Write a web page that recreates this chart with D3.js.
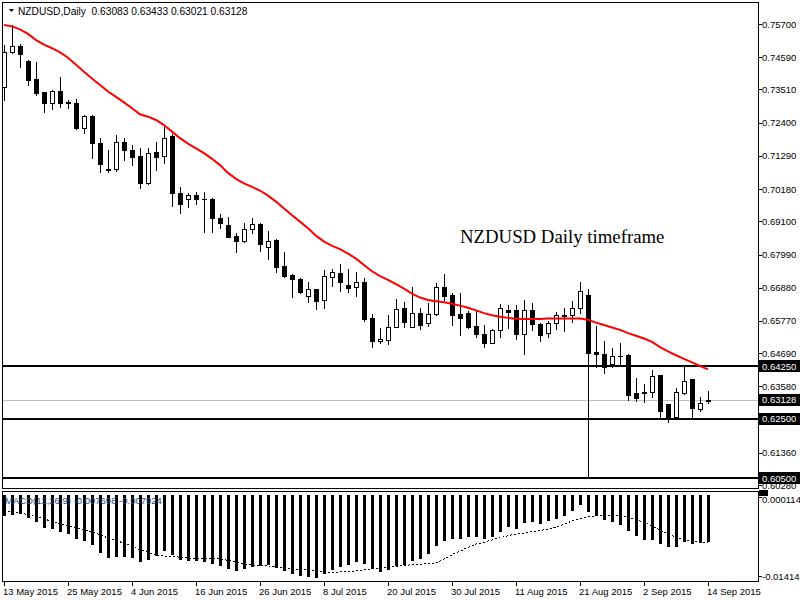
<!DOCTYPE html>
<html><head><meta charset="utf-8">
<script src="https://cdn.jsdelivr.net/npm/d3@7"></script>
<style>
body{margin:0;background:#fff}
svg{display:block}
text{font-family:"Liberation Sans",Arial,sans-serif}
</style>
</head><body>
<svg id="c" width="800" height="600"></svg>
<script>
const dates = ["2015-05-13","2015-05-14","2015-05-15","2015-05-18","2015-05-19","2015-05-20","2015-05-21","2015-05-22","2015-05-25","2015-05-26","2015-05-27","2015-05-28","2015-05-29",
"2015-06-01","2015-06-02","2015-06-03","2015-06-04","2015-06-05","2015-06-08","2015-06-09","2015-06-10","2015-06-11","2015-06-12","2015-06-15","2015-06-16","2015-06-17","2015-06-18","2015-06-19","2015-06-22","2015-06-23","2015-06-24","2015-06-25","2015-06-26","2015-06-29","2015-06-30",
"2015-07-01","2015-07-02","2015-07-03","2015-07-06","2015-07-07","2015-07-08","2015-07-09","2015-07-10","2015-07-13","2015-07-14","2015-07-15","2015-07-16","2015-07-17","2015-07-20","2015-07-21","2015-07-22","2015-07-23","2015-07-24","2015-07-27","2015-07-28","2015-07-29","2015-07-30","2015-07-31",
"2015-08-03","2015-08-04","2015-08-05","2015-08-06","2015-08-07","2015-08-10","2015-08-11","2015-08-12","2015-08-13","2015-08-14","2015-08-17","2015-08-18","2015-08-19","2015-08-20","2015-08-21","2015-08-24","2015-08-25","2015-08-26","2015-08-27","2015-08-28","2015-08-31",
"2015-09-01","2015-09-02","2015-09-03","2015-09-04","2015-09-07","2015-09-08","2015-09-09","2015-09-10","2015-09-11","2015-09-14"];

const open  = [0.7359,0.7477,0.7497,0.7446,0.7386,0.7343,0.7305,0.7346,0.7308,0.7305,0.7221,0.7262,0.7171,0.7085,0.7084,0.7176,0.7149,0.7128,0.7037,0.7141,0.7130,0.7195,0.7006,0.6984,0.6997,0.6985,0.6985,0.6920,0.6897,0.6861,0.6845,0.6883,0.6900,0.6823,0.6848,0.6761,0.6731,0.6716,0.6660,0.6682,0.6647,0.6723,0.6737,0.6697,0.6689,0.6706,0.6586,0.6508,0.6513,0.6558,0.6619,0.6558,0.6603,0.6569,0.6599,0.6689,0.6664,0.6599,0.6603,0.6560,0.6532,0.6504,0.6547,0.6614,0.6614,0.6532,0.6614,0.6567,0.6536,0.6569,0.6596,0.6595,0.6619,0.6664,0.6473,0.6465,0.6432,0.6461,0.6462,0.6335,0.6338,0.6340,0.6395,0.6298,0.6255,0.6337,0.6383,0.6282,0.63083];
const high  = [0.7500,0.7567,0.7502,0.7450,0.7442,0.7344,0.7349,0.7392,0.7316,0.7318,0.7266,0.7266,0.7190,0.7149,0.7199,0.7188,0.7165,0.7154,0.7154,0.7176,0.7227,0.7202,0.7026,0.7006,0.7008,0.7009,0.6987,0.6934,0.6926,0.6870,0.6904,0.6922,0.6906,0.6878,0.6851,0.6806,0.6734,0.6720,0.6708,0.6683,0.6747,0.6751,0.6767,0.6751,0.6740,0.6720,0.6600,0.6552,0.6597,0.6649,0.6641,0.6689,0.6619,0.6636,0.6703,0.6734,0.6669,0.6669,0.6610,0.6614,0.6563,0.6550,0.6634,0.6630,0.6630,0.6647,0.6638,0.6571,0.6578,0.6605,0.6619,0.6644,0.6706,0.6683,0.6560,0.6510,0.6485,0.6502,0.6465,0.6385,0.6365,0.6413,0.6396,0.6298,0.6352,0.6422,0.6383,0.6322,0.63433];
const low   = [0.7316,0.7473,0.7427,0.7366,0.7333,0.7277,0.7286,0.7293,0.7288,0.7218,0.7207,0.7123,0.7076,0.7076,0.7079,0.7115,0.7098,0.7021,0.7035,0.7082,0.7104,0.6961,0.6938,0.6957,0.6967,0.6875,0.6875,0.6887,0.6857,0.6809,0.6842,0.6872,0.6812,0.6783,0.6742,0.6725,0.6658,0.6671,0.6641,0.6616,0.6619,0.6692,0.6678,0.6675,0.6661,0.6578,0.6491,0.6504,0.6500,0.6557,0.6558,0.6557,0.6550,0.6560,0.6595,0.6647,0.6563,0.6530,0.6552,0.6522,0.6489,0.6503,0.6524,0.6552,0.6516,0.6466,0.6548,0.6508,0.6524,0.6549,0.6544,0.6574,0.6603,0.6051,0.6424,0.6404,0.6424,0.6430,0.6313,0.6309,0.6307,0.6324,0.6251,0.6240,0.6251,0.6333,0.6251,0.6277,0.63021];
const close = [0.7476,0.7496,0.7469,0.7383,0.7340,0.7305,0.7346,0.7305,0.7306,0.7221,0.7262,0.7171,0.7101,0.7083,0.7176,0.7149,0.7126,0.7039,0.7140,0.7126,0.7188,0.7006,0.6967,0.6997,0.6984,0.6983,0.6920,0.6904,0.6859,0.6845,0.6883,0.6900,0.6833,0.6845,0.6758,0.6728,0.6716,0.6675,0.6683,0.6645,0.6727,0.6740,0.6708,0.6688,0.6706,0.6583,0.6508,0.6516,0.6558,0.6616,0.6572,0.6603,0.6563,0.6599,0.6689,0.6661,0.6597,0.6588,0.6558,0.6532,0.6504,0.6547,0.6619,0.6608,0.6532,0.6614,0.6566,0.6530,0.6569,0.6595,0.6594,0.6619,0.6678,0.6471,0.6465,0.6424,0.6461,0.6459,0.6329,0.6318,0.6336,0.6394,0.6277,0.6251,0.6338,0.6376,0.6284,0.6302,0.63128];

const ma = [0.7567,0.7562,0.7552,0.7537,0.7516,0.7501,0.7489,0.7475,0.7457,0.7434,
0.7410,0.7388,0.7366,0.7344,0.7326,0.7308,0.7288,0.7268,0.7260,0.7249,
0.7232,0.7210,0.7188,0.7170,0.7154,0.7138,0.7119,0.7098,0.7072,0.7052,
0.7037,0.7025,0.7013,0.6996,0.6976,0.6953,0.6930,0.6909,0.6887,0.6862,
0.6842,0.6828,0.6817,0.6802,0.6785,0.6764,0.6743,0.6727,0.6714,0.6700,
0.6685,0.6668,0.6655,0.6647,0.6643,0.6639,0.6634,0.6628,0.6621,0.6612,
0.6603,0.6596,0.6591,0.6587,0.6584,0.6583,0.6583,0.6583,0.6585,0.6585,
0.6585,0.6585,0.6585,0.6581,0.6571,0.6563,0.6555,0.6547,0.6536,0.6527,
0.6518,0.6507,0.6489,0.6475,0.6462,0.6450,0.6438,0.6426,0.6415];

const macd = [-0.00344,-0.00328,-0.00311,-0.00382,-0.00447,-0.00546,-0.00562,-0.00611,-0.00644,-0.00726,
-0.00764,-0.00829,-0.00956,-0.01037,-0.01026,-0.01026,-0.01037,-0.01103,-0.01065,-0.01000,
-0.00923,-0.00988,-0.01065,-0.01082,-0.01092,-0.01103,-0.01136,-0.01164,-0.01218,-0.01246,
-0.01213,-0.01180,-0.01164,-0.01157,-0.01201,-0.01255,-0.01295,-0.01328,-0.01349,-0.01360,
-0.01300,-0.01229,-0.01185,-0.01147,-0.01103,-0.01136,-0.01218,-0.01262,-0.01239,-0.01174,
-0.01147,-0.01082,-0.01049,-0.00972,-0.00846,-0.00754,-0.00726,-0.00721,-0.00693,-0.00698,
-0.00721,-0.00698,-0.00616,-0.00534,-0.00557,-0.00469,-0.00452,-0.00475,-0.00436,-0.00393,
-0.00344,-0.00272,-0.00174,-0.00284,-0.00344,-0.00420,-0.00452,-0.00492,-0.00600,-0.00682,
-0.00747,-0.00738,-0.00803,-0.00862,-0.00857,-0.00780,-0.00803,-0.00792,-0.007698];

const signal = [-0.00272,-0.00284,-0.00300,-0.00328,-0.00361,-0.00393,-0.00443,-0.00480,-0.00513,-0.00541,
-0.00574,-0.00611,-0.00656,-0.00710,-0.00754,-0.00792,-0.00846,-0.00901,-0.00944,-0.00983,
-0.01005,-0.01010,-0.01026,-0.01037,-0.01042,-0.01049,-0.01049,-0.01054,-0.01075,-0.01098,
-0.01136,-0.01152,-0.01160,-0.01164,-0.01190,-0.01201,-0.01213,-0.01223,-0.01239,-0.01255,
-0.01270,-0.01272,-0.01267,-0.01259,-0.01251,-0.01234,-0.01215,-0.01201,-0.01188,-0.01174,
-0.01160,-0.01147,-0.01139,-0.01133,-0.01119,-0.01054,-0.00983,-0.00928,-0.00862,-0.00808,
-0.00780,-0.00742,-0.00705,-0.00672,-0.00644,-0.00628,-0.00606,-0.00590,-0.00562,-0.00529,
-0.00485,-0.00431,-0.00393,-0.00366,-0.00349,-0.00333,-0.00338,-0.00354,-0.00370,-0.00410,
-0.00452,-0.00513,-0.00583,-0.00644,-0.00698,-0.00731,-0.00759,-0.00775,-0.007924];

const priceTicks = [0.7570,0.7459,0.7351,0.7240,0.7129,0.7018,0.6910,0.6799,0.6688,0.6577,0.6469,0.6358,0.6247,0.6136,0.6028];
const levels = [0.6425,0.6250,0.6050];
const lastPrice = 0.63128;
const macdTicks = [0.000114,-0.014145];
const dateTicks = ["2015-05-13","2015-05-25","2015-06-04","2015-06-16","2015-06-26","2015-07-08","2015-07-20","2015-07-30","2015-08-11","2015-08-21","2015-09-02","2015-09-14"];
const dateLabels = ["13 May 2015","25 May 2015","4 Jun 2015","16 Jun 2015","26 Jun 2015","8 Jul 2015","20 Jul 2015","30 Jul 2015","11 Aug 2015","21 Aug 2015","2 Sep 2015","14 Sep 2015"];
const header = "NZDUSD,Daily  0.63083 0.63433 0.63021 0.63128";
const macdLabel = "MACD(12,26,9) -0.007698 -0.007924";
const note = "NZDUSD Daily timeframe";

const svg = d3.select("#c");
const L = 2, R = 758;
const x = d3.scalePoint().domain(dates).range([4, 708]);
const y = d3.scaleLinear().domain([0.6028, 0.757]).range([485, 24]);
const ym = d3.scaleLinear().domain([-0.014145, 0.000114]).range([581, 494]);

const defs = svg.append("defs");
defs.append("clipPath").attr("id","cm").append("rect").attr("x",L+1).attr("y",3).attr("width",R-L-1).attr("height",485);
defs.append("clipPath").attr("id","cd").append("rect").attr("x",L+1).attr("y",492).attr("width",R-L-1).attr("height",89);

// main panel
const gm = svg.append("g").attr("clip-path","url(#cm)").attr("shape-rendering","crispEdges");
gm.append("line").attr("x1",L).attr("x2",R).attr("y1",Math.round(y(lastPrice))+0.5).attr("y2",Math.round(y(lastPrice))+0.5)
  .attr("stroke","#c0c0c0").attr("stroke-width",1);
gm.selectAll(".lvl").data(levels).join("line")
  .attr("x1",L).attr("x2",R).attr("y1",d=>Math.round(y(d))).attr("y2",d=>Math.round(y(d)))
  .attr("stroke","#000").attr("stroke-width",2);

// candles
const idx = d3.range(dates.length);
const cg = gm.selectAll(".cd").data(idx).join("g");
cg.append("line")
  .attr("x1",i=>x(dates[i])+0.5).attr("x2",i=>x(dates[i])+0.5)
  .attr("y1",i=>Math.round(y(high[i]))).attr("y2",i=>Math.round(y(low[i]))+1)
  .attr("stroke","#000").attr("stroke-width",1);
cg.each(function(i){
  const g = d3.select(this);
  const cx = x(dates[i]);
  const top = Math.round(y(Math.max(open[i],close[i])));
  const bot = Math.round(y(Math.min(open[i],close[i])));
  const up = close[i] >= open[i];
  if (bot - top < 1) {
    g.append("rect").attr("x",cx-2).attr("y",top).attr("width",5).attr("height",1).attr("fill","#000");
  } else if (up) {
    g.append("rect").attr("x",cx-1.5).attr("y",top+0.5).attr("width",4).attr("height",Math.max(bot-top,1))
      .attr("fill","#fff").attr("stroke","#000").attr("stroke-width",1);
  } else {
    g.append("rect").attr("x",cx-2).attr("y",top).attr("width",5).attr("height",Math.max(bot-top,1)+1).attr("fill","#000");
  }
});

// moving average
gm.append("path").datum(idx)
  .attr("d", d3.line().x(i=>x(dates[i])).y(i=>y(ma[i])))
  .attr("fill","none").attr("stroke","#ff0000").attr("stroke-width",2).attr("shape-rendering","auto");

// annotation
svg.append("text").attr("x",460).attr("y",243)
  .style("font-family","'Liberation Serif','Times New Roman',serif").attr("font-size",18.8).attr("fill","#000").text(note);

// MACD panel
const gd = svg.append("g").attr("clip-path","url(#cd)").attr("shape-rendering","crispEdges");
gd.selectAll(".hb").data(idx).join("rect")
  .attr("x",i=>x(dates[i])-1).attr("width",3)
  .attr("y",i=>Math.min(ym(0),ym(macd[i]))).attr("height",i=>Math.abs(ym(macd[i])-ym(0)))
  .attr("fill","#000");
gd.append("path").datum(idx)
  .attr("d", d3.line().x(i=>x(dates[i])).y(i=>ym(signal[i])))
  .attr("fill","none").attr("stroke","#000").attr("stroke-width",1).attr("stroke-dasharray","2,2");
svg.append("text").attr("x",5).attr("y",504).attr("font-size",9.5).attr("fill","#2a4a80").text(macdLabel);

// frames
const fr = svg.append("g").attr("shape-rendering","crispEdges").attr("stroke","#000").attr("fill","none");
fr.append("rect").attr("x",L+0.5).attr("y",2.5).attr("width",R-L).attr("height",486);
fr.append("rect").attr("x",L+0.5).attr("y",491.5).attr("width",R-L).attr("height",90);

// header
svg.append("path").attr("d","M9,9 L14,9 L11.5,12 Z").attr("fill","#000");
svg.append("text").attr("x",18).attr("y",14.5).attr("font-size",10.2).attr("fill","#000").attr("xml:space","preserve").style("white-space","pre").text(header);

// right price axis
const ax = svg.append("g").attr("shape-rendering","crispEdges");
ax.selectAll(".pt").data(priceTicks).join("line")
  .attr("x1",R).attr("x2",R+4).attr("y1",d=>Math.round(y(d))+0.5).attr("y2",d=>Math.round(y(d))+0.5).attr("stroke","#000");
ax.selectAll(".pl").data(priceTicks).join("text")
  .attr("x",R+4).attr("y",d=>y(d)+3.5).attr("font-size",9.5).attr("fill","#000").text(d=>d.toFixed(5));
const boxes = levels.concat([lastPrice]);
ax.selectAll(".bx").data(boxes).join("rect")
  .attr("x",R+1).attr("y",d=>Math.round(y(d))-6).attr("width",42).attr("height",12).attr("fill","#000");
ax.selectAll(".bt").data(boxes).join("text")
  .attr("x",R+4).attr("y",d=>y(d)+3.5).attr("font-size",9.5).attr("fill","#fff").text(d=>d.toFixed(5));

// MACD axis
ax.append("rect").attr("x",R+1).attr("y",490).attr("width",9).attr("height",6).attr("fill","#000");
ax.selectAll(".ml").data(macdTicks).join("text")
  .attr("x",R+4).attr("y",(d,i)=> i===0 ? ym(d)+8.5 : ym(d)-1.5).attr("font-size",9.5).attr("fill","#000").text(d=>d.toFixed(6));
ax.selectAll(".mt").data(macdTicks).join("line")
  .attr("x1",R).attr("x2",R+4).attr("y1",(d,i)=> i===0 ? 497.5 : 576.5).attr("y2",(d,i)=> i===0 ? 497.5 : 576.5).attr("stroke","#000");

// bottom date axis
ax.selectAll(".dt").data(dateTicks).join("line")
  .attr("x1",d=>x(d)+0.5).attr("x2",d=>x(d)+0.5).attr("y1",582).attr("y2",586).attr("stroke","#000");
ax.selectAll(".dl").data(dateTicks).join("text")
  .attr("x",d=>x(d)-1).attr("y",595).attr("font-size",9.5).attr("fill","#000").text((d,i)=>dateLabels[i]);
</script>
</body></html>
